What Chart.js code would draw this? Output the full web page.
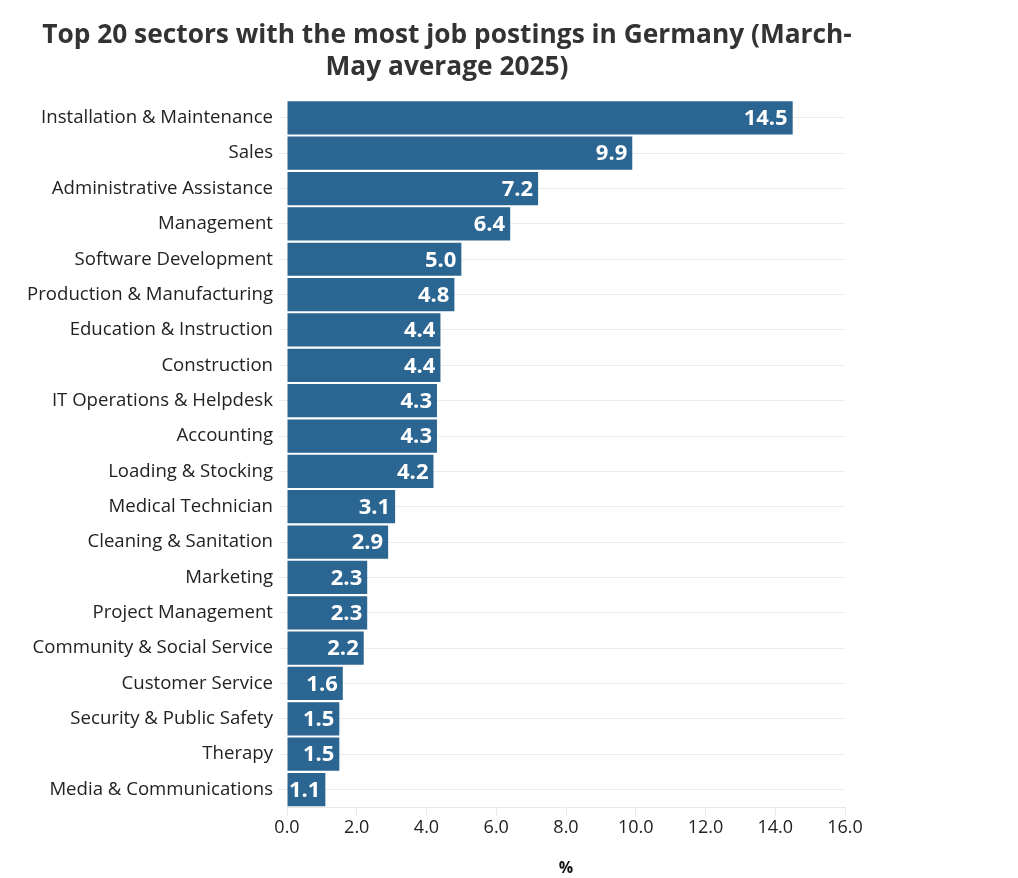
<!DOCTYPE html>
<html>
<head>
<meta charset="utf-8">
<script src="https://cdn.jsdelivr.net/npm/chart.js@4"></script>
<style>
  body { margin: 0; background: #fff; }
  #wrap { width: 1018px; height: 878px; }
</style>
</head>
<body>
<div id="wrap"><canvas id="sectors"></canvas></div>
<script>
/* top 20 sectors, job postings share */
const sectors = [
  "Installation & Maintenance",
  "Sales",
  "Administrative Assistance",
  "Management",
  "Software Development",
  "Production & Manufacturing",
  "Education & Instruction",
  "Construction",
  "IT Operations & Helpdesk",
  "Accounting",
  "Loading & Stocking",
  "Medical Technician",
  "Cleaning & Sanitation",
  "Marketing",
  "Project Management",
  "Community & Social Service",
  "Customer Service",
  "Security & Public Safety",
  "Therapy",
  "Media & Communications",
];
const shares = [14.5, 9.9, 7.2, 6.4, 5.0, 4.8, 4.4, 4.4, 4.3, 4.3, 4.2, 3.1, 2.9, 2.3, 2.3, 2.2, 1.6, 1.5, 1.5, 1.1];
const xTicks = [0, 2, 4, 6, 8, 10, 12, 14, 16];

const FONT = "'Open Sans', sans-serif";

// white value labels at the end of each bar
const barLabels = {
  id: "barLabels",
  afterLayout(chart) {
    // title sits centred a bit left of the page, over 0..894
    const t = chart.titleBlock;
    t.left = 0;
    t.right = 894;
    t.width = 894;
  },
  afterDatasetsDraw(chart) {
    const ctx = chart.ctx;
    const meta = chart.getDatasetMeta(0);
    ctx.save();
    ctx.font = "bold 22px " + FONT;
    ctx.fillStyle = "#fff";
    ctx.textAlign = "right";
    ctx.textBaseline = "middle";
    meta.data.forEach((bar, i) => {
      ctx.fillText(shares[i].toFixed(1), bar.x - 5, bar.y + 1);
    });
    ctx.restore();
  },
};

new Chart(document.getElementById("sectors"), {
  type: "bar",
  data: {
    labels: sectors,
    datasets: [
      {
        label: "%",
        data: shares,
        backgroundColor: "#2b6591",
        barPercentage: 0.94,
        categoryPercentage: 1,
      },
    ],
  },
  options: {
    indexAxis: "y",
    responsive: true,
    maintainAspectRatio: false,
    animation: false,
    layout: {
      padding: { top: 19, left: 10, right: 173, bottom: 0 },
    },
    plugins: {
      legend: { display: false },
      tooltip: { enabled: false },
      title: {
        display: true,
        text: ["Top 20 sectors with the most job postings in Germany (March-", "May average 2025)"],
        color: "#333",
        font: { family: FONT, size: 26.3, weight: "bold", lineHeight: 1.22 },
        padding: { top: 0, bottom: 17 },
      },
    },
    scales: {
      x: {
        min: 0,
        max: 16,
        afterBuildTicks(scale) {
          scale.ticks = xTicks.map((v) => ({ value: v }));
        },
        ticks: {
          color: "#222",
          font: { family: FONT, size: 18 },
          padding: 2,
          callback: (v) => Number(v).toFixed(1),
        },
        grid: {
          drawOnChartArea: false,
          color: "#e8e8e8",
          tickLength: 8,
        },
        border: { color: "#e8e8e8" },
        title: {
          display: true,
          text: "%",
          color: "#111",
          font: { family: FONT, size: 16, weight: "bold" },
          padding: { top: 18, bottom: 0 },
        },
      },
      y: {
        afterFit(scale) {
          scale.width = 277;
        },
        ticks: {
          color: "#222",
          font: { family: FONT, size: 18.6 },
          padding: 6,
        },
        grid: {
          offset: false,
          color: "#ececec",
          tickLength: 8,
        },
        border: { display: false },
      },
    },
  },
  plugins: [barLabels],
});
</script>
</body>
</html>
